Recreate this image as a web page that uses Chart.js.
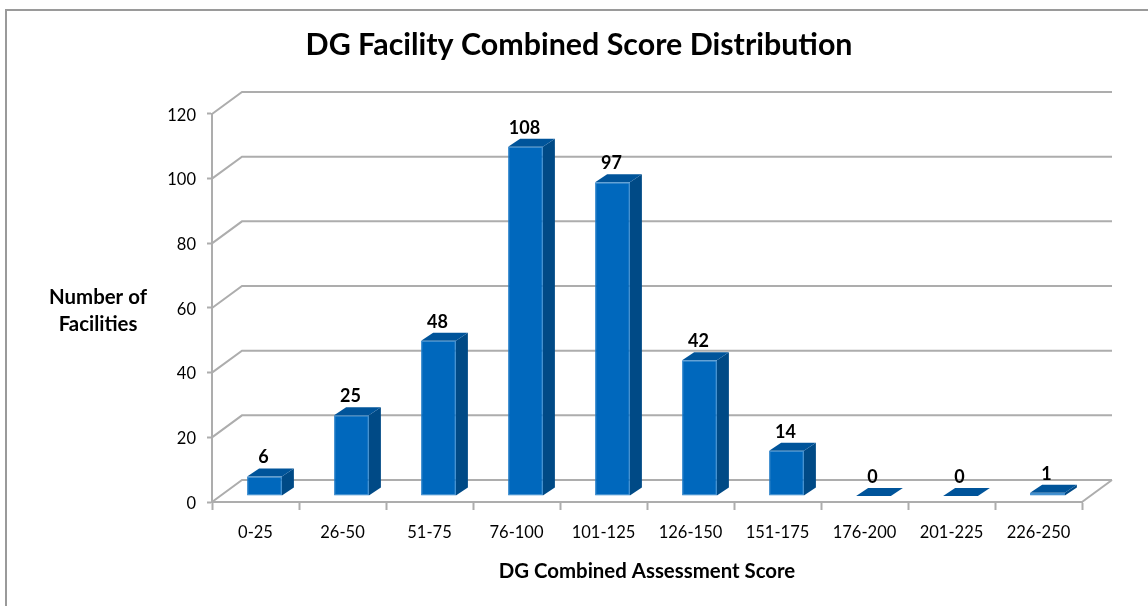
<!DOCTYPE html>
<html>
<head>
<meta charset="utf-8">
<title>DG Facility Combined Score Distribution</title>
<script src="https://cdn.jsdelivr.net/npm/chart.js@4/dist/chart.umd.min.js"></script>
<style>
  html, body { margin: 0; padding: 0; background: #fff; }
  canvas { display: block; }
</style>
</head>
<body>
<canvas id="chart" width="1148" height="606"></canvas>
<script>
const categories = ['0-25', '26-50', '51-75', '76-100', '101-125', '126-150', '151-175', '176-200', '201-225', '226-250'];
const facilities = [6, 25, 48, 108, 97, 42, 14, 0, 0, 1];
const yTicks = [0, 20, 40, 60, 80, 100, 120];
const yTitleLines = ['Number of', 'Facilities'];

const FONT = 'Lato, sans-serif';
const GRID = '#adadad';

// the back wall sits this far behind the front of the axes
const wall = { dx: 30, dy: -22 };
// bars stand a little way into the floor
const barShift = { dx: 9, dy: -6 };
const barDepth = { dx: 12, dy: -8 };

const frame3d = {
  id: 'frame3d',
  beforeDraw(chart) {
    const ctx = chart.ctx;
    ctx.save();
    ctx.strokeStyle = '#9a9a9a';
    ctx.lineWidth = 2;
    ctx.beginPath();
    ctx.moveTo(6, 606);
    ctx.lineTo(6, 10);
    ctx.lineTo(1148, 10);
    ctx.stroke();

    // horizontal y title
    ctx.fillStyle = '#000';
    ctx.font = 'bold 20.4px ' + FONT;
    ctx.textAlign = 'center';
    ctx.textBaseline = 'middle';
    yTitleLines.forEach((line, i) => ctx.fillText(line, 98, 297 + i * 27));
    ctx.restore();
  },
  beforeDatasetsDraw(chart) {
    const ctx = chart.ctx;
    const { left, right } = chart.chartArea;
    const y = chart.scales.y;
    ctx.save();
    ctx.strokeStyle = GRID;
    ctx.lineWidth = 2;
    yTicks.forEach(t => {
      const py = y.getPixelForValue(t);
      ctx.beginPath();
      ctx.moveTo(left, py);
      ctx.lineTo(left + wall.dx, py + wall.dy);
      ctx.lineTo(right + wall.dx, py + wall.dy);
      ctx.stroke();
    });
    const floor = y.getPixelForValue(0);
    ctx.beginPath();
    ctx.moveTo(right, floor);
    ctx.lineTo(right + wall.dx, floor + wall.dy);
    ctx.stroke();
    ctx.restore();

    // bar sides go under the fronts, the fronts get drawn shifted
    const bars = chart.getDatasetMeta(0).data;
    ctx.save();
    ctx.translate(barShift.dx, barShift.dy);
    bars.forEach(bar => {
      const l = bar.x - bar.width / 2;
      const r = bar.x + bar.width / 2;
      ctx.fillStyle = '#004a86';
      ctx.beginPath();
      ctx.moveTo(r, bar.y);
      ctx.lineTo(r + barDepth.dx, bar.y + barDepth.dy);
      ctx.lineTo(r + barDepth.dx, bar.base + barDepth.dy);
      ctx.lineTo(r, bar.base);
      ctx.closePath();
      ctx.fill();
      ctx.fillStyle = '#00549a';
      ctx.beginPath();
      ctx.moveTo(l, bar.y);
      ctx.lineTo(l + barDepth.dx, bar.y + barDepth.dy);
      ctx.lineTo(r + barDepth.dx, bar.y + barDepth.dy);
      ctx.lineTo(r, bar.y);
      ctx.closePath();
      ctx.fill();
    });
    ctx.restore();
    ctx.save();
    ctx.translate(barShift.dx, barShift.dy);
  },
  afterDatasetsDraw(chart) {
    const ctx = chart.ctx;
    ctx.restore();
    ctx.save();
    ctx.fillStyle = '#000';
    ctx.font = 'bold 18px ' + FONT;
    ctx.textAlign = 'center';
    ctx.textBaseline = 'middle';
    chart.getDatasetMeta(0).data.forEach((bar, i) => {
      ctx.fillText(String(facilities[i]), bar.x + barShift.dx - 1, bar.y + barShift.dy - 19);
    });
    ctx.restore();
  }
};

new Chart(document.getElementById('chart'), {
  type: 'bar',
  data: {
    labels: categories,
    datasets: [{
      data: facilities,
      backgroundColor: '#0068bd',
      borderColor: '#1f7cc8',
      borderWidth: 1,
      borderSkipped: false,
      barPercentage: 0.4,
      categoryPercentage: 1
    }]
  },
  plugins: [frame3d],
  options: {
    responsive: false,
    animation: false,
    layout: { padding: { left: 76, right: 66, top: 0, bottom: 0 } },
    plugins: {
      legend: { display: false },
      tooltip: { enabled: false },
      title: {
        display: true,
        text: 'DG Facility Combined Score Distribution',
        color: '#000',
        font: { family: FONT, size: 30.4, weight: 'bold', lineHeight: 1.2 },
        padding: { top: 27, bottom: 50.5 }
      }
    },
    scales: {
      x: {
        afterFit(scale) { scale.height = 104; },
        grid: { drawOnChartArea: false, drawTicks: true, tickLength: 8, tickColor: GRID, tickWidth: 2 },
        border: { color: GRID, width: 2 },
        ticks: { color: '#000', font: { family: FONT, size: 16.5 }, padding: 13, maxRotation: 0, autoSkip: false },
        title: {
          display: true,
          text: 'DG Combined Assessment Score',
          color: '#000',
          font: { family: FONT, size: 20.4, weight: 'bold' },
          padding: { top: 0, bottom: 22 }
        }
      },
      y: {
        min: 0,
        max: 120,
        afterFit(scale) { scale.width = 136; },
        afterBuildTicks(scale) { scale.ticks = yTicks.map(value => ({ value })); },
        grid: { drawOnChartArea: false, drawTicks: true, tickLength: 5, tickColor: GRID, tickWidth: 2 },
        border: { color: GRID, width: 2 },
        ticks: { color: '#000', font: { family: FONT, size: 16.5 }, padding: 11, labelOffset: 1.5 }
      }
    }
  }
});
</script>
</body>
</html>
